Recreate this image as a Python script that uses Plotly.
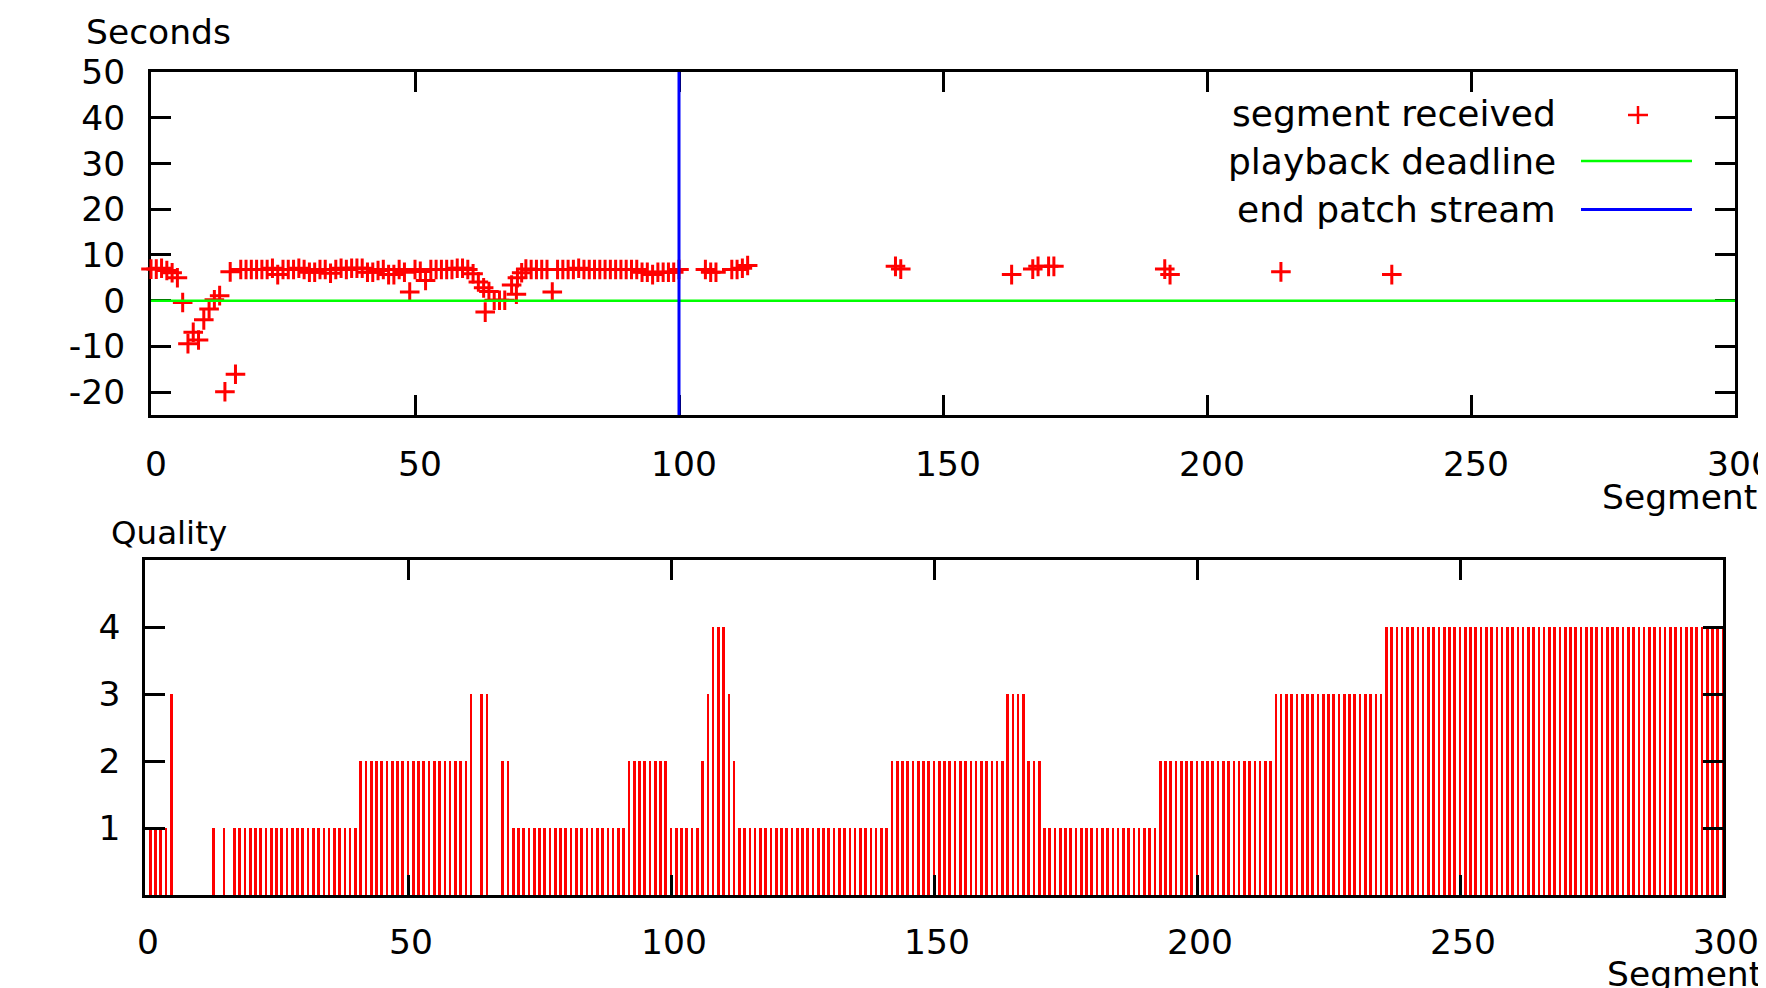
import plotly.graph_objects as go

W, H = 1766, 988

# ---------------- data ----------------
recv_segment = [0, 1, 2, 3, 4, 5, 6, 7, 8, 9, 10, 11, 12, 13, 14, 15, 16,
                17, 18, 19, 20, 21, 22, 23, 24, 25, 26, 27, 28, 29, 30,
                31, 32, 33, 34, 35, 36, 37, 38, 39, 40, 41, 42, 43, 44, 45,
                46, 47, 48, 49, 50, 51, 52, 53, 54, 55, 56, 57, 58, 59, 60,
                61, 62, 63, 63.3, 64, 65, 66, 67, 68.3, 69.2, 69.4, 70.2, 71,
                72, 73, 74, 75, 76, 77, 78, 79, 80, 81, 82, 83, 84, 85, 86,
                87, 88, 89, 90, 91, 92, 93, 94, 95, 96, 97, 98, 99, 100,
                105, 106, 107, 110, 111, 112, 113,
                141, 142, 163, 167, 168, 170, 171, 192, 193, 214, 235]
recv_seconds = [6.9, 6.9, 7.1, 6.6, 6.1, 5.0, -0.4, -9.4, -6.9, -8.6, -4.2, -1.8, 0.2, 1.1, -19.9, 6.3, -16.1,
                6.8, 6.8, 6.8, 6.8, 6.8, 6.8, 7.1, 5.7, 6.8, 6.8, 6.8, 7.1, 6.8, 6.2,
                6.2, 6.8, 6.8, 6.0, 6.8, 7.1, 6.8, 7.1, 7.1, 7.1, 6.2, 6.2, 6.6, 6.8, 5.7,
                5.7, 6.8, 6.2, 1.9, 6.8, 6.4, 4.4, 6.8, 6.8, 6.8, 6.8, 6.8, 7.1, 7.1, 6.8,
                5.9, 4.1, 2.8, -2.5, 2.0, 0.1, 0.1, 0.1, 3.4, 1.4, 5.0, 6.1, 6.9,
                6.8, 6.8, 6.8, 6.8, 1.9, 6.8, 6.8, 6.8, 6.8, 7.1, 6.8, 6.8, 6.8, 6.8, 6.8,
                6.8, 6.8, 6.8, 6.8, 6.8, 6.8, 6.2, 6.2, 5.7, 6.2, 6.2, 6.2, 6.2, 6.8,
                6.8, 6.2, 6.2, 6.8, 6.8, 7.1, 7.7,
                7.5, 6.9, 5.7, 6.9, 7.5, 7.5, 7.5, 6.9, 5.7, 6.3, 5.7]

deadline_x = [0, 300]
deadline_y = [0, 0]
patch_end_x = [100, 100]
patch_end_y = [-25, 50]

quality_segment = list(range(1, 301))
quality = [
    1, 1, 1, 1, 3, 0, 0, 0, 0, 0,   # 1-10
    0, 0, 1, 0, 1, 0, 1, 1, 1, 1,   # 11-20
    1, 1, 1, 1, 1, 1, 1, 1, 1, 1,   # 21-30
    1, 1, 1, 1, 1, 1, 1, 1, 1, 1,   # 31-40
    2, 2, 2, 2, 2, 2, 2, 2, 2, 2,   # 41-50
    2, 2, 2, 2, 2, 2, 2, 2, 2, 2,   # 51-60
    2, 3, 0, 3, 3, 0, 0, 2, 2, 1,   # 61-70
    1, 1, 1, 1, 1, 1, 1, 1, 1, 1,   # 71-80
    1, 1, 1, 1, 1, 1, 1, 1, 1, 1,   # 81-90
    1, 2, 2, 2, 2, 2, 2, 2, 2, 1,   # 91-100
    1, 1, 1, 1, 1, 2, 3, 4, 4, 4,   # 101-110
    3, 2, 1, 1, 1, 1, 1, 1, 1, 1,   # 111-120
    1, 1, 1, 1, 1, 1, 1, 1, 1, 1,   # 121-130
    1, 1, 1, 1, 1, 1, 1, 1, 1, 1,   # 131-140
    1, 2, 2, 2, 2, 2, 2, 2, 2, 2,   # 141-150
    2, 2, 2, 2, 2, 2, 2, 2, 2, 2,   # 151-160
    2, 2, 2, 3, 3, 3, 3, 2, 2, 2,   # 161-170
    1, 1, 1, 1, 1, 1, 1, 1, 1, 1,   # 171-180
    1, 1, 1, 1, 1, 1, 1, 1, 1, 1,   # 181-190
    1, 1, 2, 2, 2, 2, 2, 2, 2, 2,   # 191-200
    2, 2, 2, 2, 2, 2, 2, 2, 2, 2,   # 201-210
    2, 2, 2, 2, 3, 3, 3, 3, 3, 3,   # 211-220
    3, 3, 3, 3, 3, 3, 3, 3, 3, 3,   # 221-230
    3, 3, 3, 3, 3, 4, 4, 4, 4, 4,   # 231-240
    4, 4, 4, 4, 4, 4, 4, 4, 4, 4,   # 241-250
    4, 4, 4, 4, 4, 4, 4, 4, 4, 4,   # 251-260
    4, 4, 4, 4, 4, 4, 4, 4, 4, 4,   # 261-270
    4, 4, 4, 4, 4, 4, 4, 4, 4, 4,   # 271-280
    4, 4, 4, 4, 4, 4, 4, 4, 4, 4,   # 281-290
    4, 4, 4, 4, 4, 4, 4, 4, 4, 4,   # 291-300
]

x_ticks = [0, 50, 100, 150, 200, 250, 300]
sec_ticks = [-20, -10, 0, 10, 20, 30, 40, 50]
sec_tick_text = ["-20", "-10", "0", "10", "20", "30", "40", "50"]
q_ticks = [1, 2, 3, 4]

legend_labels = ["segment received", "playback deadline", "end patch stream"]

# ---------------- figure ----------------
FONT = "DejaVu Sans"
RED, GREEN, BLUE = "#ff0000", "#00ff00", "#0000ff"
OFF = 8  # page body margin offset of the plot div


def px(x):
    return (x - OFF) / W


def py(y):
    return 1 - (y - OFF) / H


fig = go.Figure()

fig.add_trace(go.Scatter(
    x=recv_segment, y=recv_seconds, mode="markers", name=legend_labels[0],
    marker=dict(symbol="cross-thin", size=14, color=RED,
                line=dict(color=RED, width=3)),
    cliponaxis=False, xaxis="x", yaxis="y", showlegend=False))
fig.add_trace(go.Scatter(
    x=deadline_x, y=deadline_y, mode="lines", name=legend_labels[1],
    line=dict(color=GREEN, width=2.5), xaxis="x", yaxis="y", showlegend=False))
fig.add_trace(go.Scatter(
    x=patch_end_x, y=patch_end_y, mode="lines", name=legend_labels[2],
    line=dict(color=BLUE, width=3), xaxis="x", yaxis="y", showlegend=False))

fig.add_trace(go.Bar(
    x=quality_segment, y=quality, width=0.5,
    marker=dict(color=RED, line=dict(width=0)),
    xaxis="x2", yaxis="y2", showlegend=False))

axis_common = dict(
    showgrid=False, zeroline=False, showline=True, linecolor="black",
    mirror="ticks", ticks="inside", ticklen=20, tickcolor="black",
    automargin=False, ticklabeloverflow="allow",
    tickfont=dict(family=FONT, size=34.5, color="black"),
)

fig.update_layout(
    width=W, height=H,
    margin=dict(l=0, r=0, t=0, b=0, pad=0, autoexpand=False),
    paper_bgcolor="white", plot_bgcolor="white",
    font=dict(family=FONT, color="black"),
    showlegend=False,
    bargap=0,
    xaxis=dict(domain=[px(151), px(1735)], range=[0, 300], tickvals=x_ticks,
               linewidth=3, tickwidth=3, anchor="y", ticklabelstandoff=17,
               ticklabelshift=5, layer="below traces", **axis_common),
    yaxis=dict(domain=[py(415), py(72)], range=[-25, 50], tickvals=sec_ticks,
               ticktext=sec_tick_text, layer="below traces",
               linewidth=3, tickwidth=3, anchor="x", ticklabelstandoff=16,
               **axis_common),
    xaxis2=dict(domain=[px(145), px(1723)], range=[0, 300], tickvals=x_ticks,
                linewidth=2.5, tickwidth=2.5, anchor="y2", ticklabelstandoff=15,
                ticklabelshift=3, **axis_common),
    yaxis2=dict(domain=[py(895), py(560)], range=[0, 5], tickvals=q_ticks,
                linewidth=2.5, tickwidth=2.5, anchor="x2", ticklabelstandoff=15,
                **axis_common),
)

ann = []
for text, x, y, size in [("Seconds", 84, 32, 34.5), ("Segments", 1600, 497, 34.5),
                         ("Quality", 109, 533, 32.5), ("Segments", 1605, 974, 34.5)]:
    ann.append(dict(text=text, x=px(x), y=py(y), xref="paper", yref="paper",
                    xanchor="left", yanchor="middle", showarrow=False,
                    font=dict(family=FONT, size=size, color="black")))
for text, y in zip(legend_labels, [113, 161, 209.5]):
    ann.append(dict(text=text, x=px(1558), y=py(y), xref="paper", yref="paper",
                    xanchor="right", yanchor="middle", showarrow=False,
                    font=dict(family=FONT, size=36, color="black")))
fig.update_layout(annotations=ann)

shapes = [
    # legend sample: plus
    dict(type="line", xref="paper", yref="paper", x0=px(1628), x1=px(1648),
         y0=py(115), y1=py(115), line=dict(color=RED, width=2.5)),
    dict(type="line", xref="paper", yref="paper", x0=px(1638), x1=px(1638),
         y0=py(106), y1=py(124), line=dict(color=RED, width=2.5)),
    # legend sample: lines
    dict(type="line", xref="paper", yref="paper", x0=px(1581), x1=px(1692),
         y0=py(161), y1=py(161), line=dict(color=GREEN, width=2.5)),
    dict(type="line", xref="paper", yref="paper", x0=px(1581), x1=px(1692),
         y0=py(209.5), y1=py(209.5), line=dict(color=BLUE, width=3)),
]
fig.update_layout(shapes=shapes)

fig.write_html("out.html")
